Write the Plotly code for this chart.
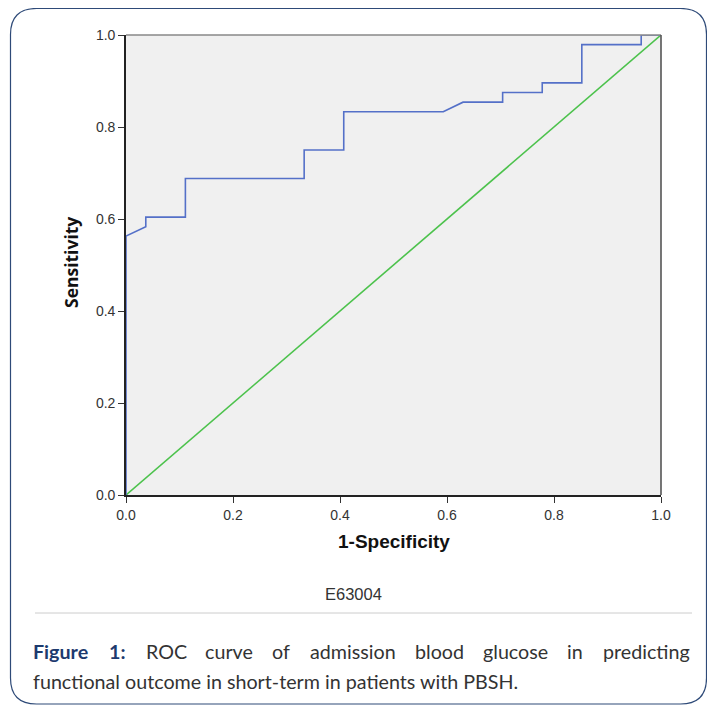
import plotly.graph_objects as go

# ---- data ----
fpr = [0.0, 0.0, 0.037, 0.037, 0.111, 0.111, 0.333, 0.333, 0.407, 0.407, 0.593,
       0.630, 0.704, 0.704, 0.778, 0.778, 0.852, 0.852, 0.963, 0.963, 1.0]
sens = [0.0, 0.563, 0.583, 0.604, 0.604, 0.688, 0.688, 0.750, 0.750, 0.833, 0.833,
        0.854, 0.854, 0.875, 0.875, 0.896, 0.896, 0.979, 0.979, 1.0, 1.0]
ref_x = [0.0, 1.0]
ref_y = [0.0, 1.0]
tick_vals = [0.0, 0.2, 0.4, 0.6, 0.8, 1.0]
tick_text = ["0.0", "0.2", "0.4", "0.6", "0.8", "1.0"]

x_title = "1-Specificity"
y_title = "Sensitivity"
sub_label = "E63004"
caption_bold = "Figure 1:"
caption_line1 = ["ROC", "curve", "of", "admission", "blood", "glucose", "in", "predicting"]
caption_line2 = "functional outcome in short-term in patients with PBSH."

# ---- layout geometry (pixels, target-image coordinates) ----
W, H = 715, 706
OFF = 8  # page body margin offset
L, R, T, B = 126, 661, 35, 495


def px(x):
    return (x - L) / (R - L)


def py(y):
    return (B - y) / (B - T)


fig = go.Figure()
fig.add_trace(go.Scatter(x=ref_x, y=ref_y, mode="lines",
                         line=dict(color="#4cc24c", width=1.6),
                         hoverinfo="skip", showlegend=False, cliponaxis=False))
fig.add_trace(go.Scatter(x=fpr, y=sens, mode="lines",
                         line=dict(color="#5470c8", width=1.6),
                         showlegend=False, cliponaxis=False))

axis_common = dict(range=[0, 1], tickvals=tick_vals, ticktext=tick_text,
                   showgrid=False, zeroline=False, showline=True,
                   linecolor="#222222", linewidth=1.6,
                   ticks="outside", ticklen=6, tickwidth=1.2, tickcolor="#333333",
                   tickfont=dict(family="Liberation Sans, Arial", size=14, color="#333333"),
                   fixedrange=True)

fig.update_layout(
    width=W, height=H, autosize=False,
    margin=dict(l=L - OFF, r=W - R + OFF, t=T - OFF, b=H - B + OFF, pad=0),
    paper_bgcolor="white", plot_bgcolor="#f0f0f0",
    xaxis=dict(**axis_common),
    yaxis=dict(**axis_common),
    showlegend=False,
)

shapes = []
# top and right frame lines
shapes.append(dict(type="line", xref="paper", yref="paper", x0=0, x1=1, y0=1, y1=1,
                   line=dict(color="#888888", width=1.6), layer="above"))
shapes.append(dict(type="line", xref="paper", yref="paper", x0=1, x1=1, y0=0, y1=1,
                   line=dict(color="#555555", width=1.6), layer="above"))
# separator
shapes.append(dict(type="line", xref="paper", yref="paper", x0=px(35), x1=px(692),
                   y0=py(613), y1=py(613), line=dict(color="#cccccc", width=1)))
# rounded border
bx0, by0, bx1, by1, rad = 10.5, 8.5, 706.5, 704, 26


def P(x, y):
    return f"{px(x):.5f},{py(y):.5f}"


path = (f"M {P(bx0 + rad, by0)} L {P(bx1 - rad, by0)} Q {P(bx1, by0)} {P(bx1, by0 + rad)} "
        f"L {P(bx1, by1 - rad)} Q {P(bx1, by1)} {P(bx1 - rad, by1)} "
        f"L {P(bx0 + rad, by1)} Q {P(bx0, by1)} {P(bx0, by1 - rad)} "
        f"L {P(bx0, by0 + rad)} Q {P(bx0, by0)} {P(bx0 + rad, by0)} Z")
shapes.append(dict(type="path", xref="paper", yref="paper", path=path,
                   line=dict(color="#2e4a78", width=1.2)))
fig.update_layout(shapes=shapes)

ann = []
ann.append(dict(text=f"<b>{x_title}</b>", xref="paper", yref="paper",
                x=px(394), y=py(541), xanchor="center", yanchor="middle", showarrow=False,
                font=dict(family="Liberation Sans, Arial", size=19, color="#111111")))
ann.append(dict(text=f"<b>{y_title}</b>", xref="paper", yref="paper", textangle=-90,
                x=px(71), y=py(263), xanchor="center", yanchor="middle", showarrow=False,
                font=dict(family="Open Sans", size=17.5, color="#111111")))
ann.append(dict(text=sub_label, xref="paper", yref="paper",
                x=px(353), y=py(594), xanchor="center", yanchor="middle", showarrow=False,
                font=dict(family="Liberation Sans, Arial", size=16.5, color="#333333")))

cap_font = "Lato"
cap_size = 19.7
cap_color = "#333333"
# line 1, justified: evenly spaced word left edges (pixels); last word right-aligned
word_left = [144, 203, 270, 307.5, 412.5, 481, 565]
ann.append(dict(text=f"<b>{caption_bold.split()[0]}</b>", xref="paper", yref="paper",
                x=px(31), y=py(651), xanchor="left", yanchor="middle", showarrow=False,
                font=dict(family=cap_font, size=cap_size, color="#1d3a6e")))
ann.append(dict(text=f"<b>{caption_bold.split()[1]}</b>", xref="paper", yref="paper",
                x=px(107), y=py(651), xanchor="left", yanchor="middle", showarrow=False,
                font=dict(family=cap_font, size=cap_size, color="#1d3a6e")))
for w, xx in zip(caption_line1[:-1], word_left):
    ann.append(dict(text=w, xref="paper", yref="paper",
                    x=px(xx), y=py(651), xanchor="left", yanchor="middle", showarrow=False,
                    font=dict(family=cap_font, size=cap_size, color=cap_color)))
ann.append(dict(text=caption_line1[-1], xref="paper", yref="paper",
                x=px(692), y=py(651), xanchor="right", yanchor="middle", showarrow=False,
                font=dict(family=cap_font, size=cap_size, color=cap_color)))
ann.append(dict(text=caption_line2, xref="paper", yref="paper",
                x=px(31), y=py(681), xanchor="left", yanchor="middle", showarrow=False,
                font=dict(family=cap_font, size=cap_size, color=cap_color)))
fig.update_layout(annotations=ann)

fig.write_html("out.html", config={"displayModeBar": False})
